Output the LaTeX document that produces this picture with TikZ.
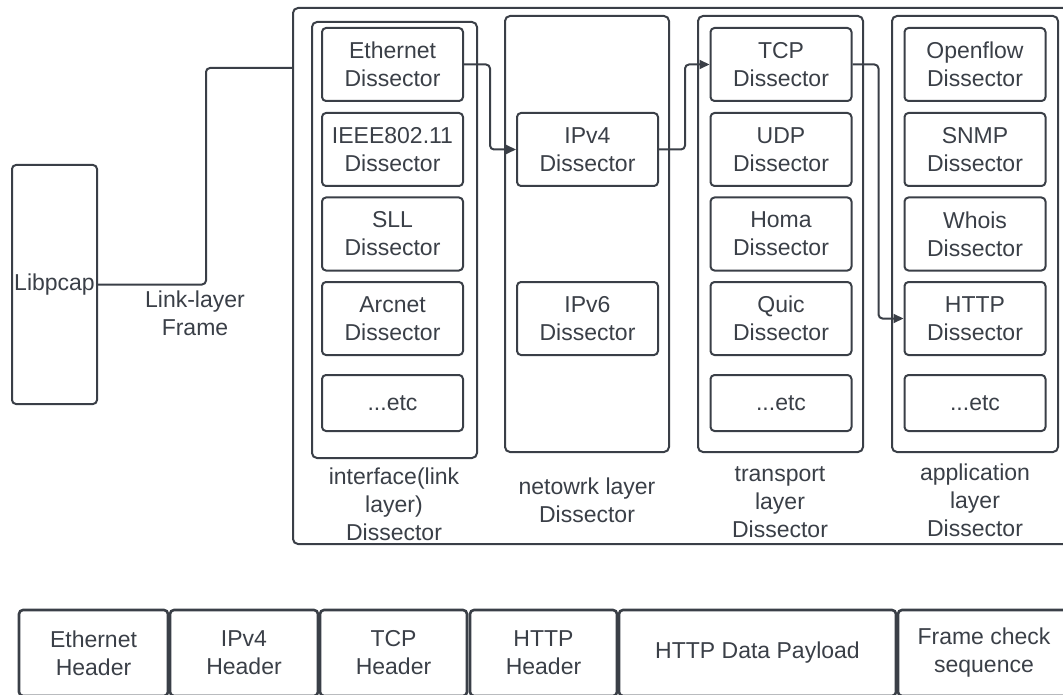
\documentclass[tikz,border=0pt]{standalone}
\usepackage{fontspec}
\setmainfont{Liberation Sans}
\usetikzlibrary{arrows.meta}
\definecolor{ink}{RGB}{58,63,71}
\tikzset{
  box/.style={draw=ink, line width=2pt, rounded corners=4pt, inner sep=0pt, align=center, text=ink},
  dbox/.style={box, minimum width=141pt, minimum height=73pt},
  ebox/.style={box, minimum width=141pt, minimum height=56pt},
  col/.style={draw=ink, line width=2pt, rounded corners=5pt, inner sep=0pt},
  lbl/.style={text=ink, align=center, inner sep=0pt},
  fbox/.style={box, line width=2.6pt, minimum height=86pt},
  conn/.style={draw=ink, line width=2pt, rounded corners=4pt},
  arr/.style={conn, -{Triangle[length=10pt,width=9pt]}},
}
\begin{document}
\begin{tikzpicture}[x=1pt,y=-1pt,font=\fontsize{23}{28}\selectfont]
\useasboundingbox (0,0) rectangle (1063,695);
% outer container
\node[col, minimum width=775pt, minimum height=536pt] (outer) at (680.5,276) {};
% columns
\node[col, minimum width=165pt, minimum height=436pt] (c1) at (394.5,240) {};
\node[col, minimum width=164pt, minimum height=436pt] (c2) at (587,234) {};
\node[col, minimum width=165pt, minimum height=436pt] (c3) at (780.5,234) {};
\node[col, minimum width=166pt, minimum height=436pt] (c4) at (975,234) {};
% libpcap
\node[box, minimum width=85pt, minimum height=239pt] (lib) at (54.5,284.5) {Libpcap};
\node[lbl] (llf) at (195,313) {Link-layer\\Frame};
% column 1
\node[dbox] (eth) at (392.5,64.5) {Ethernet\\Dissector};
\node[dbox] (ieee) at (392.5,149.5) {IEEE802.11\\Dissector};
\node[dbox] (sll) at (392.5,234) {SLL\\Dissector};
\node[dbox] (arc) at (392.5,318.5) {Arcnet\\Dissector};
\node[ebox] (etc1) at (392.5,403) {...etc};
% column 2
\node[dbox] (ipv4) at (587.5,149.5) {IPv4\\Dissector};
\node[dbox] (ipv6) at (587.5,318.5) {IPv6\\Dissector};
% column 3
\node[dbox] (tcp) at (781,64.5) {TCP\\Dissector};
\node[dbox] (udp) at (781,149.5) {UDP\\Dissector};
\node[dbox] (homa) at (781,234) {Homa\\Dissector};
\node[dbox] (quic) at (781,318.5) {Quic\\Dissector};
\node[ebox] (etc3) at (781,403) {...etc};
% column 4
\node[dbox] (ofl) at (975,64.5) {Openflow\\Dissector};
\node[dbox] (snmp) at (975,149.5) {SNMP\\Dissector};
\node[dbox] (whois) at (975,234) {Whois\\Dissector};
\node[dbox] (http) at (975,318.5) {HTTP\\Dissector};
\node[ebox] (etc4) at (975,403) {...etc};
% column labels
\node[lbl] (l1) at (394,504) {interface(link\\layer)\\Dissector};
\node[lbl] (l2) at (587,500) {netowrk layer\\Dissector};
\node[lbl] (l3) at (780,502) {transport\\layer\\Dissector};
\node[lbl] (l4) at (975,500) {application\\layer\\Dissector};
% connectors
\coordinate (inlet) at (293,68);
\draw[conn] (lib.east) -- ++(108,0) |- (outer.west |- inlet);
\draw[arr] (eth.east) -- ++(26,0) |- (ipv4.west);
\draw[arr] (ipv4.east) -- ++(26,0) |- (tcp.west);
\draw[arr] (tcp.east) -- ++(26,0) |- (http.west);
% frame layout
\node[fbox, minimum width=149pt] (fe) at (93.5,653) {Ethernet\\Header};
\node[fbox, minimum width=148pt] (fi) at (244,653) {IPv4\\Header};
\node[fbox, minimum width=147pt] (ft) at (393.5,653) {TCP\\Header};
\node[fbox, minimum width=147pt] (fh) at (543.5,653) {HTTP\\Header};
\node[fbox, minimum width=277pt] (fp) at (757.5,653) {HTTP Data Payload};
\node[fbox, minimum width=172pt] (fc) at (984,653) {Frame check\\sequence};
\end{tikzpicture}
\end{document}
